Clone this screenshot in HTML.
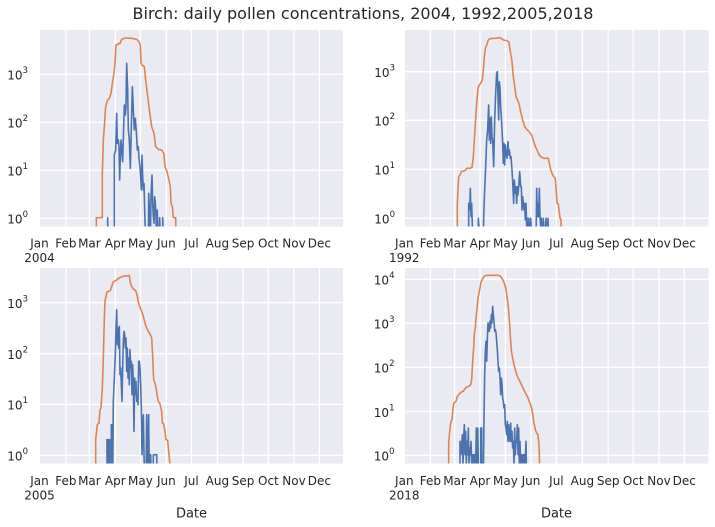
<!DOCTYPE html>
<html>
<head>
<meta charset="utf-8">
<style>
  html, body { margin: 0; padding: 0; background: #ffffff; }
  svg { display: block; }
  text { font-family: "DejaVu Sans", "Liberation Sans", sans-serif; fill: #262626; }
</style>
</head>
<body>
<svg width="715" height="527" viewBox="0 0 715 527" xmlns="http://www.w3.org/2000/svg">
  <defs>
    <clipPath id="c1"><rect x="40" y="30" width="303" height="196.5"/></clipPath>
    <clipPath id="c2"><rect x="405" y="30" width="303.5" height="196.5"/></clipPath>
    <clipPath id="c3"><rect x="40" y="268" width="303" height="195.5"/></clipPath>
    <clipPath id="c4"><rect x="405" y="268" width="303.5" height="195.5"/></clipPath>
  </defs>

  <!-- Title -->
  <text x="363" y="19" font-size="16" text-anchor="middle">Birch: daily pollen concentrations, 2004, 1992,2005,2018</text>

  <!-- ============ AXES 1 (2004) ============ -->
  <rect x="40" y="30" width="303" height="196.5" fill="#EAEAF2"/>
  <g stroke="#ffffff" stroke-width="1.3" clip-path="url(#c1)">
    <line x1="65.9" y1="30" x2="65.9" y2="227"/>
    <line x1="89.4" y1="30" x2="89.4" y2="227"/>
    <line x1="115.3" y1="30" x2="115.3" y2="227"/>
    <line x1="140.4" y1="30" x2="140.4" y2="227"/>
    <line x1="166.4" y1="30" x2="166.4" y2="227"/>
    <line x1="191.5" y1="30" x2="191.5" y2="227"/>
    <line x1="217.4" y1="30" x2="217.4" y2="227"/>
    <line x1="243.1" y1="30" x2="243.1" y2="227"/>
    <line x1="268.4" y1="30" x2="268.4" y2="227"/>
    <line x1="294" y1="30" x2="294" y2="227"/>
    <line x1="319.4" y1="30" x2="319.4" y2="227"/>
    <line x1="40" y1="74.3" x2="343" y2="74.3"/>
    <line x1="40" y1="122.3" x2="343" y2="122.3"/>
    <line x1="40" y1="170.3" x2="343" y2="170.3"/>
    <line x1="40" y1="218.3" x2="343" y2="218.3"/>
  </g>
  <g clip-path="url(#c1)">
    <g transform="translate(85,30) scale(0.33333)" fill="none" stroke-linejoin="round">
      <polyline vector-effect="non-scaling-stroke" stroke="#4C72B0" stroke-width="1.6" points="68,640 68,563 69,640 88,640 88,375 92,360 95,250 97,340 100,330 102,350 104,450 106,380 108,330 111,370 113,395 116,290 118,225 121,255 123,230 125,100 128,180 130,300 133,330 136,415 139,290 142,170 145,240 148,300 151,265 154,305 157,360 160,350 162,385 165,410 167,440 169,480 171,375 173,440 175,480 177,460 179,540 182,640 190,640 191,490 194,560 196,640 198,500 201,435 203,520 205,560 207,580 209,500 211,520 213,560 215,640 217,540 219,640 222,640 224,563 226,640 233,640 233,563 235,640"/>
      <polyline vector-effect="non-scaling-stroke" stroke="#DD8452" stroke-width="1.6" points="34,640 34,563 52,563 52,430 55,330 58,290 62,230 67,212 73,205 78,190 82,160 87,130 90,100 93,45 100,42 105,40 110,28 120,24 140,25 155,28 162,35 166,45 168,100 172,106 178,110 182,150 187,190 193,240 200,290 207,310 212,350 220,358 230,360 237,372 240,410 246,425 252,450 256,470 258,520 262,530 265,563 272,563 274,640"/>
    </g>
  </g>
  <!-- y ticks A1 -->
  <g font-size="12" text-anchor="end">
    <text x="28" y="79.5">10<tspan dy="-6.5" font-size="8.5">3</tspan></text>
    <text x="28" y="127.5">10<tspan dy="-6.5" font-size="8.5">2</tspan></text>
    <text x="28" y="175.5">10<tspan dy="-6.5" font-size="8.5">1</tspan></text>
    <text x="28" y="223.5">10<tspan dy="-6.5" font-size="8.5">0</tspan></text>
  </g>
  <!-- x ticks A1 -->
  <g font-size="12" text-anchor="middle">
    <text x="39.5" y="247.5">Jan</text>
    <text x="39.5" y="262">2004</text>
    <text x="65.9" y="247.5">Feb</text>
    <text x="89.4" y="247.5">Mar</text>
    <text x="115.3" y="247.5">Apr</text>
    <text x="140.4" y="247.5">May</text>
    <text x="166.4" y="247.5">Jun</text>
    <text x="191.5" y="247.5">Jul</text>
    <text x="217.4" y="247.5">Aug</text>
    <text x="243.1" y="247.5">Sep</text>
    <text x="268.4" y="247.5">Oct</text>
    <text x="294" y="247.5">Nov</text>
    <text x="319.4" y="247.5">Dec</text>
  </g>

  <!-- ============ AXES 2 (1992) ============ -->
  <rect x="405" y="30" width="303.5" height="196.5" fill="#EAEAF2"/>
  <g stroke="#ffffff" stroke-width="1.3" clip-path="url(#c2)">
    <line x1="430.4" y1="30" x2="430.4" y2="227"/>
    <line x1="454.6" y1="30" x2="454.6" y2="227"/>
    <line x1="480" y1="30" x2="480" y2="227"/>
    <line x1="505.4" y1="30" x2="505.4" y2="227"/>
    <line x1="531" y1="30" x2="531" y2="227"/>
    <line x1="556.4" y1="30" x2="556.4" y2="227"/>
    <line x1="582.4" y1="30" x2="582.4" y2="227"/>
    <line x1="608.2" y1="30" x2="608.2" y2="227"/>
    <line x1="633.2" y1="30" x2="633.2" y2="227"/>
    <line x1="659" y1="30" x2="659" y2="227"/>
    <line x1="684.3" y1="30" x2="684.3" y2="227"/>
    <line x1="405" y1="71.7" x2="709" y2="71.7"/>
    <line x1="405" y1="120.3" x2="709" y2="120.3"/>
    <line x1="405" y1="169.3" x2="709" y2="169.3"/>
    <line x1="405" y1="218.3" x2="709" y2="218.3"/>
  </g>
  <g clip-path="url(#c2)">
    <g transform="translate(450,30) scale(0.33333)" fill="none" stroke-linejoin="round">
      <polyline vector-effect="non-scaling-stroke" stroke="#4C72B0" stroke-width="1.6" points="56,640 56,520 59,540 61,475 63,560 65,520 67,590 70,640 85,640 85,565 87,590 88,640 100,640 101,560 104,480 107,410 110,330 113,300 116,225 118,330 120,265 122,340 124,260 126,320 128,330 131,410 134,270 137,190 140,130 142,125 144,200 146,270 148,155 150,175 152,230 154,260 156,300 158,340 160,400 162,340 164,405 166,345 168,370 171,385 174,335 176,375 178,360 181,385 183,380 186,420 188,455 191,520 193,450 196,490 198,470 200,520 202,470 204,495 206,470 209,425 212,470 214,470 216,540 218,500 220,520 222,540 224,520 226,570 228,520 230,590 232,565 234,640 236,565 240,640 242,565 246,640 258,640 260,475 262,560 264,520 266,560 268,475 270,560 272,590 274,565 276,640 280,565 282,640 288,565 290,640 294,565 296,640"/>
      <polyline vector-effect="non-scaling-stroke" stroke="#DD8452" stroke-width="1.6" points="22,640 22,520 26,440 30,435 34,425 45,422 50,415 60,415 66,412 70,380 73,330 76,280 80,220 84,175 88,165 93,158 97,150 100,120 103,80 106,55 110,45 115,30 120,26 135,25 150,23 155,26 160,30 170,32 176,35 178,45 182,70 186,95 190,140 195,175 198,200 203,210 208,225 212,245 218,270 224,290 230,298 238,305 246,318 250,330 256,350 262,362 268,375 275,382 283,385 295,385 298,400 302,418 306,430 311,440 316,445 318,470 321,520 325,522 330,565 333,568 334,640"/>
    </g>
  </g>
  <g font-size="12" text-anchor="end">
    <text x="395" y="77">10<tspan dy="-6.5" font-size="8.5">3</tspan></text>
    <text x="395" y="125.5">10<tspan dy="-6.5" font-size="8.5">2</tspan></text>
    <text x="395" y="174.5">10<tspan dy="-6.5" font-size="8.5">1</tspan></text>
    <text x="395" y="223.5">10<tspan dy="-6.5" font-size="8.5">0</tspan></text>
  </g>
  <g font-size="12" text-anchor="middle">
    <text x="404.3" y="247.5">Jan</text>
    <text x="404.3" y="262">1992</text>
    <text x="430.4" y="247.5">Feb</text>
    <text x="454.6" y="247.5">Mar</text>
    <text x="480" y="247.5">Apr</text>
    <text x="505.4" y="247.5">May</text>
    <text x="531" y="247.5">Jun</text>
    <text x="556.4" y="247.5">Jul</text>
    <text x="582.4" y="247.5">Aug</text>
    <text x="608.2" y="247.5">Sep</text>
    <text x="633.2" y="247.5">Oct</text>
    <text x="659" y="247.5">Nov</text>
    <text x="684.3" y="247.5">Dec</text>
  </g>

  <!-- ============ AXES 3 (2005) ============ -->
  <rect x="40" y="268" width="303" height="195.5" fill="#EAEAF2"/>
  <g stroke="#ffffff" stroke-width="1.3" clip-path="url(#c3)">
    <line x1="65.9" y1="268" x2="65.9" y2="464"/>
    <line x1="89.4" y1="268" x2="89.4" y2="464"/>
    <line x1="115.3" y1="268" x2="115.3" y2="464"/>
    <line x1="140.4" y1="268" x2="140.4" y2="464"/>
    <line x1="166.4" y1="268" x2="166.4" y2="464"/>
    <line x1="191.5" y1="268" x2="191.5" y2="464"/>
    <line x1="217.4" y1="268" x2="217.4" y2="464"/>
    <line x1="243.1" y1="268" x2="243.1" y2="464"/>
    <line x1="268.4" y1="268" x2="268.4" y2="464"/>
    <line x1="294" y1="268" x2="294" y2="464"/>
    <line x1="319.4" y1="268" x2="319.4" y2="464"/>
    <line x1="40" y1="302.7" x2="343" y2="302.7"/>
    <line x1="40" y1="353.7" x2="343" y2="353.7"/>
    <line x1="40" y1="404.3" x2="343" y2="404.3"/>
    <line x1="40" y1="455.3" x2="343" y2="455.3"/>
  </g>
  <g clip-path="url(#c3)">
    <g transform="translate(85,268) scale(0.33333)" fill="none" stroke-linejoin="round">
      <polyline vector-effect="non-scaling-stroke" stroke="#4C72B0" stroke-width="1.6" points="66,640 66,515 70,515 70,640 72,640 72,515 74,515 74,640 79,640 79,470 82,470 83,640 85,400 88,330 91,260 93,180 95,125 97,230 99,180 101,240 103,175 105,320 107,300 109,350 111,400 113,300 115,220 117,190 119,200 121,240 123,210 125,310 127,240 129,330 131,270 133,350 135,245 137,300 139,280 141,380 143,290 145,350 147,490 149,330 151,380 153,340 155,400 157,380 159,410 161,280 163,280 165,300 167,350 169,420 171,560 173,480 175,440 177,560 179,640 183,640 185,440 187,560 189,590 191,440 193,640 197,640 197,560 199,640 205,640 205,560 211,560 215,560 217,640"/>
      <polyline vector-effect="non-scaling-stroke" stroke="#DD8452" stroke-width="1.6" points="32,640 32,515 37,470 42,465 45,425 48,420 52,360 55,270 58,150 60,100 63,85 66,72 70,70 76,68 80,55 85,42 92,38 100,32 106,28 115,25 130,23 133,22 136,45 140,55 145,63 152,68 156,80 160,102 165,118 170,130 175,145 180,165 185,180 190,190 196,200 200,210 203,265 206,335 210,345 214,365 217,385 220,400 225,408 230,430 232,465 236,468 240,490 243,515 248,517 252,560 255,590 256,640"/>
    </g>
  </g>
  <g font-size="12" text-anchor="end">
    <text x="28" y="308">10<tspan dy="-6.5" font-size="8.5">3</tspan></text>
    <text x="28" y="359">10<tspan dy="-6.5" font-size="8.5">2</tspan></text>
    <text x="28" y="409.5">10<tspan dy="-6.5" font-size="8.5">1</tspan></text>
    <text x="28" y="460.5">10<tspan dy="-6.5" font-size="8.5">0</tspan></text>
  </g>
  <g font-size="12" text-anchor="middle">
    <text x="39.5" y="485">Jan</text>
    <text x="39.5" y="499.5">2005</text>
    <text x="65.9" y="485">Feb</text>
    <text x="89.4" y="485">Mar</text>
    <text x="115.3" y="485">Apr</text>
    <text x="140.4" y="485">May</text>
    <text x="166.4" y="485">Jun</text>
    <text x="191.5" y="485">Jul</text>
    <text x="217.4" y="485">Aug</text>
    <text x="243.1" y="485">Sep</text>
    <text x="268.4" y="485">Oct</text>
    <text x="294" y="485">Nov</text>
    <text x="319.4" y="485">Dec</text>
  </g>
  <text x="191.5" y="517.5" font-size="13" text-anchor="middle">Date</text>

  <!-- ============ AXES 4 (2018) ============ -->
  <rect x="405" y="268" width="303.5" height="195.5" fill="#EAEAF2"/>
  <g stroke="#ffffff" stroke-width="1.3" clip-path="url(#c4)">
    <line x1="430.4" y1="268" x2="430.4" y2="464"/>
    <line x1="454.6" y1="268" x2="454.6" y2="464"/>
    <line x1="480" y1="268" x2="480" y2="464"/>
    <line x1="505.4" y1="268" x2="505.4" y2="464"/>
    <line x1="531" y1="268" x2="531" y2="464"/>
    <line x1="556.4" y1="268" x2="556.4" y2="464"/>
    <line x1="582.4" y1="268" x2="582.4" y2="464"/>
    <line x1="608.2" y1="268" x2="608.2" y2="464"/>
    <line x1="633.2" y1="268" x2="633.2" y2="464"/>
    <line x1="659" y1="268" x2="659" y2="464"/>
    <line x1="684.3" y1="268" x2="684.3" y2="464"/>
    <line x1="405" y1="279.3" x2="709" y2="279.3"/>
    <line x1="405" y1="323.3" x2="709" y2="323.3"/>
    <line x1="405" y1="367.3" x2="709" y2="367.3"/>
    <line x1="405" y1="411.5" x2="709" y2="411.5"/>
    <line x1="405" y1="455.3" x2="709" y2="455.3"/>
  </g>
  <g clip-path="url(#c4)">
    <g transform="translate(440,268) scale(0.33333)" fill="none" stroke-linejoin="round">
      <polyline vector-effect="non-scaling-stroke" stroke="#4C72B0" stroke-width="1.6" points="60,640 60,520 63,560 65,530 67,500 69,590 71,510 73,470 75,560 77,490 79,590 81,520 83,560 85,480 87,590 89,540 91,560 93,520 95,590 97,560 99,640 101,560 103,590 105,560 107,590 109,480 111,640 113,640 113,480 116,640 122,640 122,480 125,480 126,640 130,640 132,450 134,320 136,250 138,220 140,280 142,215 144,165 146,175 148,190 150,160 152,180 154,140 156,165 158,115 160,140 162,160 164,190 166,185 168,195 170,220 172,245 174,280 176,310 178,300 180,330 182,380 184,330 186,350 188,390 190,400 192,420 194,410 196,470 198,480 200,500 202,460 204,520 206,470 208,500 210,520 212,465 214,520 216,490 218,540 220,520 222,590 224,480 226,560 228,520 230,520 232,470 234,560 236,480 238,590 240,520 242,590 244,560 246,640 248,560 250,590 252,560 254,640 256,570 258,520 260,640"/>
      <polyline vector-effect="non-scaling-stroke" stroke="#DD8452" stroke-width="1.6" points="26,640 26,525 30,480 33,460 36,455 39,420 42,405 48,400 52,385 58,378 64,372 70,370 75,362 80,357 86,355 92,350 95,335 98,280 101,240 103,195 106,180 108,150 111,120 114,90 117,75 120,60 123,42 127,35 132,25 140,22 175,22 182,25 188,35 193,45 197,60 200,80 203,100 206,130 209,170 212,220 215,255 218,270 222,290 226,305 232,325 237,335 242,345 248,358 254,370 258,378 262,385 266,395 270,405 273,415 276,425 279,445 282,465 286,485 290,495 294,500 296,520 298,550 299,640"/>
    </g>
  </g>
  <g font-size="12" text-anchor="end">
    <text x="394.5" y="284.5">10<tspan dy="-6.5" font-size="8.5">4</tspan></text>
    <text x="394.5" y="328.5">10<tspan dy="-6.5" font-size="8.5">3</tspan></text>
    <text x="394.5" y="372.5">10<tspan dy="-6.5" font-size="8.5">2</tspan></text>
    <text x="394.5" y="417">10<tspan dy="-6.5" font-size="8.5">1</tspan></text>
    <text x="394.5" y="460.5">10<tspan dy="-6.5" font-size="8.5">0</tspan></text>
  </g>
  <g font-size="12" text-anchor="middle">
    <text x="404.3" y="485">Jan</text>
    <text x="404.3" y="499.5">2018</text>
    <text x="430.4" y="485">Feb</text>
    <text x="454.6" y="485">Mar</text>
    <text x="480" y="485">Apr</text>
    <text x="505.4" y="485">May</text>
    <text x="531" y="485">Jun</text>
    <text x="556.4" y="485">Jul</text>
    <text x="582.4" y="485">Aug</text>
    <text x="608.2" y="485">Sep</text>
    <text x="633.2" y="485">Oct</text>
    <text x="659" y="485">Nov</text>
    <text x="684.3" y="485">Dec</text>
  </g>
  <text x="556.5" y="517.5" font-size="13" text-anchor="middle">Date</text>
</svg>
</body>
</html>
